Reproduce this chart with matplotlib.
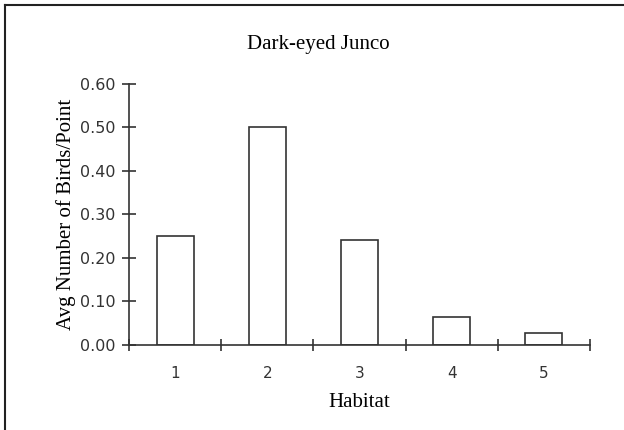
import matplotlib
matplotlib.use('Agg')
import matplotlib.pyplot as plt
from matplotlib.lines import Line2D

habitats = ['1', '2', '3', '4', '5']
birds_per_point = [0.251, 0.50, 0.241, 0.064, 0.027]
yticks = [0.0, 0.1, 0.2, 0.3, 0.4, 0.5, 0.6]

serif = 'Liberation Serif'
line_col = '#333333'

fig = plt.figure(figsize=(6.24, 4.30), dpi=100)
ax = fig.add_axes([0.2067, 0.1977, 0.7388, 0.607])

pos = list(range(1, len(habitats) + 1))
ax.bar(pos, birds_per_point, width=0.4, color='white', edgecolor=line_col, linewidth=1.2)

ax.set_xlim(0.5, len(habitats) + 0.5)
ax.set_ylim(0, 0.6)

# category boundaries get the tick marks, labels sit between them
ax.set_xticks([p - 0.5 for p in pos] + [len(habitats) + 0.5])
ax.set_xticklabels([])
ax.set_xticks(pos, minor=True)
ax.set_xticklabels(habitats, minor=True, fontfamily='DejaVu Sans', fontsize=11, color='#333333')
ax.tick_params(axis='x', which='major', direction='inout', length=8, width=1.2, color=line_col)
ax.tick_params(axis='x', which='minor', length=0, pad=15)

ax.set_yticks(yticks)
ax.set_yticklabels(['%.2f' % v for v in yticks], fontfamily='DejaVu Sans', fontsize=11.5, color='#333333')
ax.tick_params(axis='y', direction='inout', length=9.5, width=1.2, color=line_col, pad=5)

for s in ['top', 'right']:
    ax.spines[s].set_visible(False)
for s in ['left', 'bottom']:
    ax.spines[s].set_color(line_col)
    ax.spines[s].set_linewidth(1.2)

ax.set_xlabel('Habitat', fontfamily=serif, fontsize=15, labelpad=9)
ax.set_ylabel('Avg Number of Birds/Point', fontfamily=serif, fontsize=15, labelpad=3)
fig.text(318 / 624, 1 - 44 / 430, 'Dark-eyed Junco', fontfamily=serif, fontsize=15,
         ha='center', va='center')

# chart-area frame: only top and left edges show in the picture
fig.add_artist(Line2D([5 / 624, 5 / 624], [0, 1 - 5 / 430], transform=fig.transFigure, color='#222222', lw=1.5))
fig.add_artist(Line2D([5 / 624, 1], [1 - 5 / 430, 1 - 5 / 430], transform=fig.transFigure, color='#222222', lw=1.5))

plt.savefig('out.png', dpi=100)
